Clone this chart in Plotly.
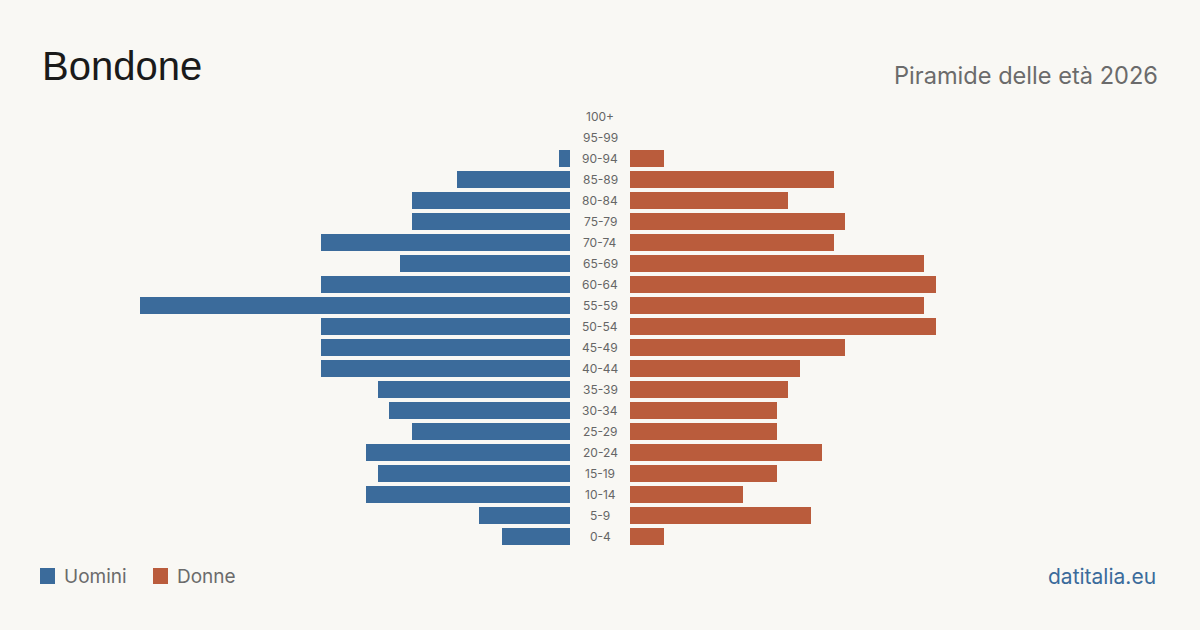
import plotly.graph_objects as go

age_groups = ["0-4", "5-9", "10-14", "15-19", "20-24", "25-29", "30-34", "35-39",
              "40-44", "45-49", "50-54", "55-59", "60-64", "65-69", "70-74",
              "75-79", "80-84", "85-89", "90-94", "95-99", "100+"]
men = [6, 8, 18, 17, 18, 14, 16, 17, 22, 22, 22, 38, 22, 15, 22, 14, 14, 10, 1, 0, 0]
women = [3, 16, 10, 13, 17, 13, 13, 14, 15, 19, 27, 26, 27, 26, 18, 19, 14, 18, 3, 0, 0]

BLUE = "#3b6b9b"
ORANGE = "#ba5c3c"
BG = "#f9f8f4"
W, H = 1200, 630
max_v = max(max(men), max(women))

top_px, bottom_px = 106.0, 547.0
plot_h = bottom_px - top_px


def py(px):
    """Convert a pixel row (from top of figure) to paper y within plot area."""
    return (bottom_px - px) / plot_h


fig = go.Figure()
fig.add_trace(go.Bar(y=age_groups, x=men, orientation="h",
                     marker=dict(color=BLUE, line=dict(width=0)),
                     width=0.8, xaxis="x", yaxis="y", name="Uomini", showlegend=False))
fig.add_trace(go.Bar(y=age_groups, x=women, orientation="h",
                     marker=dict(color=ORANGE, line=dict(width=0)),
                     width=0.8, xaxis="x2", yaxis="y", name="Donne", showlegend=False))

annotations = []
for a in age_groups:
    annotations.append(dict(x=600 / W, y=a, xref="paper", yref="y", text=a,
                            showarrow=False, xanchor="center", yanchor="middle",
                            font=dict(family="Inter", size=12, color="#666666")))

annotations += [
    dict(x=40 / W, y=py(66), xref="paper", yref="paper", text="Bondone",
         showarrow=False, xanchor="left", yanchor="middle",
         font=dict(family="Liberation Sans", size=40, color="#1a1a1a")),
    dict(x=1160 / W, y=py(76), xref="paper", yref="paper", text="Piramide delle età 2026",
         showarrow=False, xanchor="right", yanchor="middle",
         font=dict(family="Inter", size=23.6, color="#6b6b6b")),
    dict(x=62 / W, y=py(576), xref="paper", yref="paper", text="Uomini",
         showarrow=False, xanchor="left", yanchor="middle",
         font=dict(family="Inter", size=19, color="#6b6b6b")),
    dict(x=175 / W, y=py(576), xref="paper", yref="paper", text="Donne",
         showarrow=False, xanchor="left", yanchor="middle",
         font=dict(family="Inter", size=19, color="#6b6b6b")),
    dict(x=1158 / W, y=py(576), xref="paper", yref="paper", text="datitalia.eu",
         showarrow=False, xanchor="right", yanchor="middle",
         font=dict(family="Inter", size=21, color="#3b6b9b")),
]

shapes = [
    dict(type="rect", xref="paper", yref="paper", x0=40 / W, x1=55 / W,
         y0=py(584), y1=py(568), fillcolor=BLUE, line_width=0),
    dict(type="rect", xref="paper", yref="paper", x0=153 / W, x1=168 / W,
         y0=py(584), y1=py(568), fillcolor=ORANGE, line_width=0),
]

fig.update_layout(
    width=W, height=H,
    margin=dict(l=0, r=0, t=top_px, b=H - bottom_px),
    paper_bgcolor=BG, plot_bgcolor=BG,
    bargap=0, barmode="overlay",
    xaxis=dict(domain=[140 / W, 570 / W], range=[max_v, 0], visible=False, fixedrange=True),
    xaxis2=dict(domain=[630 / W, 1060 / W], range=[0, max_v], visible=False, fixedrange=True),
    yaxis=dict(categoryorder="array", categoryarray=age_groups, range=[-0.5, 20.5],
               visible=False, fixedrange=True),
    annotations=annotations, shapes=shapes,
)

fig.write_html("out.html")
